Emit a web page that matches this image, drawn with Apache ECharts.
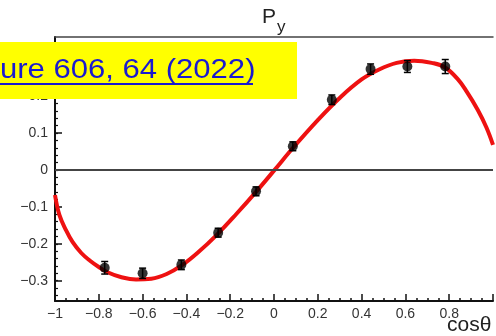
<!DOCTYPE html>
<html>
<head>
<meta charset="utf-8">
<script src="https://cdn.jsdelivr.net/npm/echarts@6/dist/echarts.min.js"></script>
<style>
html, body { margin: 0; padding: 0; background: #fff; }
#chart { width: 496px; height: 336px; }
</style>
</head>
<body>
<div id="chart"></div>
<script>
// measured points
var cosTheta = [-0.773, -0.6, -0.423, -0.255, -0.082, 0.086, 0.264, 0.441, 0.609, 0.782];
var py = [-0.265, -0.28, -0.257, -0.17, -0.058, 0.064, 0.19, 0.273, 0.28, 0.28];
var pyErr = [0.017, 0.014, 0.013, 0.012, 0.012, 0.012, 0.013, 0.014, 0.016, 0.019];
// fitted curve
var fitX = [-1, -0.98, -0.95, -0.92, -0.88, -0.84, -0.8, -0.76, -0.7, -0.63, -0.56, -0.49, -0.42, -0.35, -0.26, -0.17, -0.08, 0, 0.09, 0.2, 0.3, 0.4, 0.48, 0.56, 0.64, 0.72, 0.78, 0.84, 0.88, 0.93, 0.97, 1.0];
var fitY = [-0.068, -0.122, -0.163, -0.195, -0.225, -0.246, -0.263, -0.277, -0.29, -0.297, -0.295, -0.282, -0.258, -0.225, -0.175, -0.118, -0.058, -0.002, 0.062, 0.135, 0.195, 0.245, 0.272, 0.29, 0.296, 0.29, 0.278, 0.245, 0.212, 0.163, 0.115, 0.068];
var yTicks = [-0.3, -0.2, -0.1, 0, 0.1, 0.2, 0.3];

var yMinor = [];
for (var v = -34; v <= 34; v += 2) yMinor.push(v / 100);

function minus(val) {
	return String(val).replace('-', '\u2212');
}

var myChart = echarts.init(document.getElementById('chart'));

var pts = [], bars = [], fit = [];
for (var i = 0; i < cosTheta.length; i++) {
	pts.push([cosTheta[i], py[i]]);
	bars.push([cosTheta[i], py[i] - pyErr[i], py[i] + pyErr[i]]);
}
for (var j = 0; j < fitX.length; j++) fit.push([fitX[j], fitY[j]]);

var labelFont = { color: '#333', fontSize: 14, fontFamily: 'Liberation Sans, Arial, sans-serif' };

var option = {
	animation: false,
	grid: { left: 55, right: 1, top: 37, bottom: 35 },
	xAxis: [{
		type: 'value',
		min: -1,
		max: 1,
		interval: 0.2,
		axisLine: { onZero: false, lineStyle: { color: '#111', width: 2 } },
		axisTick: { inside: true, length: 7, lineStyle: { color: '#111', width: 1.5 } },
		minorTick: { show: true, splitNumber: 4, length: 3, lineStyle: { color: '#111', width: 1.5 } },
		splitLine: { show: false },
		axisLabel: Object.assign({
			margin: 6,
			formatter: function(val) { return val >= 0.99 ? '' : minus(Math.round(val * 10) / 10); }
		}, labelFont)
	}, {
		type: 'value',
		position: 'top',
		min: -1,
		max: 1,
		axisLine: { onZero: false, lineStyle: { color: '#444', width: 1.5 } },
		axisTick: { show: false },
		axisLabel: { show: false },
		splitLine: { show: false }
	}],
	yAxis: [{
		type: 'value',
		min: -0.355,
		max: 0.36,
		axisLine: { show: true, onZero: false, lineStyle: { color: '#111', width: 2 } },
		axisTick: { inside: true, length: 7, customValues: yTicks, lineStyle: { color: '#111', width: 1.5 } },
		splitLine: { show: false },
		axisLabel: Object.assign({
			margin: 7,
			customValues: yTicks,
			formatter: function(val) { return minus(Math.round(val * 10) / 10); }
		}, labelFont)
	}, {
		type: 'value',
		position: 'left',
		min: -0.355,
		max: 0.36,
		axisLine: { show: false, onZero: false },
		axisTick: { show: true, inside: true, length: 3, customValues: yMinor, lineStyle: { color: '#111', width: 1.2 } },
		axisLabel: { show: false, customValues: yMinor },
		splitLine: { show: false }
	}],
	graphic: [{
		type: 'text',
		left: 262,
		top: 7,
		style: { text: 'P', fontSize: 21, fill: '#222', fontFamily: 'Liberation Sans, Arial, sans-serif' }
	}, {
		type: 'text',
		left: 277,
		top: 19,
		style: { text: 'y', fontSize: 17, fill: '#222', fontFamily: 'Liberation Sans, Arial, sans-serif' }
	}, {
		type: 'text',
		left: 447,
		top: 315,
		style: { text: 'cosθ', fontSize: 21, fill: '#222', fontFamily: 'Liberation Sans, Arial, sans-serif' }
	}, {
		type: 'rect',
		z: 100,
		shape: { x: 0, y: 42, width: 297, height: 57 },
		style: { fill: '#ffff00' }
	}, {
		type: 'text',
		z: 101,
		x: 0,
		y: 57,
		scaleX: 1.15,
		style: { text: 'ure 606, 64 (2022)', fontSize: 27, fill: '#1a1ad0', fontFamily: 'Liberation Sans, Arial, sans-serif' }
	}, {
		type: 'line',
		z: 101,
		shape: { x1: 0, y1: 84, x2: 253, y2: 84 },
		style: { stroke: '#1a1ad0', lineWidth: 2 }
	}],
	series: [{
		name: 'fit',
		type: 'line',
		data: fit,
		smooth: 0.4,
		symbol: 'none',
		z: 3,
		lineStyle: { color: '#ee1111', width: 4 },
		markLine: {
			silent: true,
			symbol: 'none',
			label: { show: false },
			lineStyle: { color: '#444', width: 2, type: 'solid' },
			data: [{ yAxis: 0 }]
		}
	}, {
		name: 'err',
		type: 'custom',
		z: 4,
		data: bars,
		renderItem: function(params, api) {
			var x = api.value(0);
			var lo = api.coord([x, api.value(1)]);
			var hi = api.coord([x, api.value(2)]);
			var w = 3.5;
			var st = { stroke: '#000', lineWidth: 1.5 };
			return {
				type: 'group',
				children: [
					{ type: 'line', shape: { x1: lo[0], y1: lo[1], x2: hi[0], y2: hi[1] }, style: st },
					{ type: 'line', shape: { x1: lo[0] - w, y1: lo[1], x2: lo[0] + w, y2: lo[1] }, style: st },
					{ type: 'line', shape: { x1: hi[0] - w, y1: hi[1], x2: hi[0] + w, y2: hi[1] }, style: st }
				]
			};
		}
	}, {
		name: 'data',
		type: 'scatter',
		z: 5,
		data: pts,
		symbolSize: 10,
		itemStyle: { color: '#000' }
	}]
};

myChart.setOption(option);
</script>
</body>
</html>
